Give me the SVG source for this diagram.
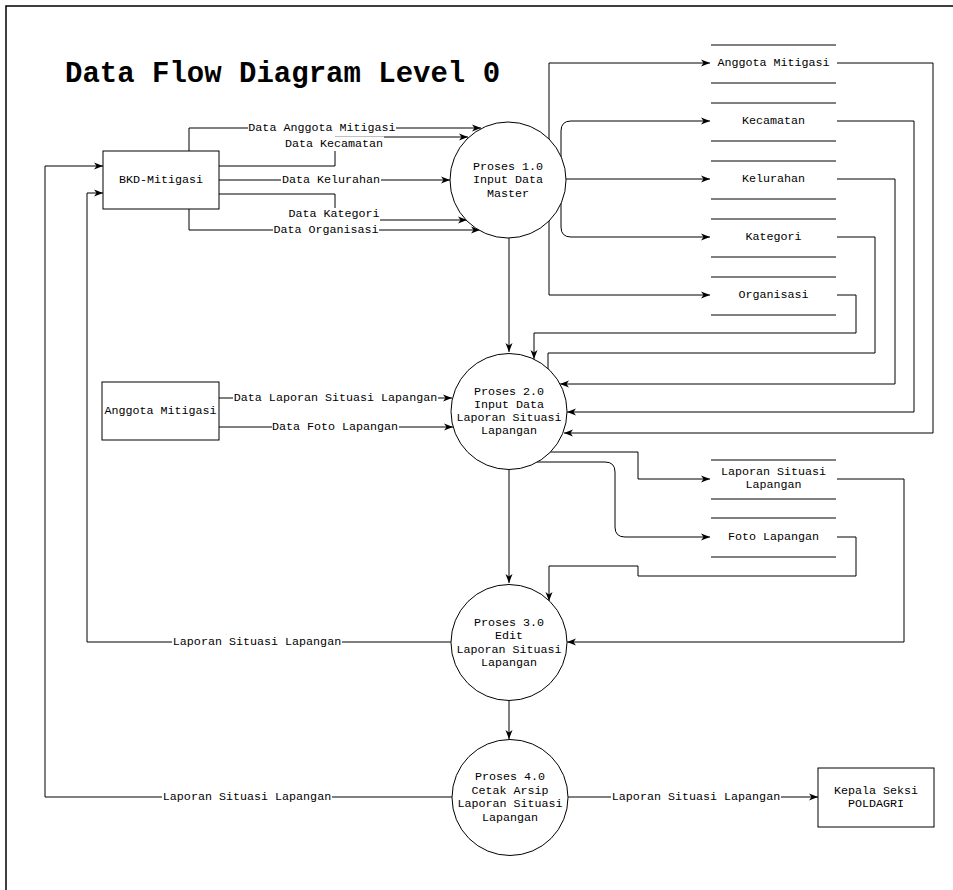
<svg xmlns="http://www.w3.org/2000/svg" width="953" height="890" viewBox="0 0 953 890">
<style>
.t{font-family:"Liberation Mono","Courier New",monospace;font-size:11.7px;fill:#000;text-anchor:middle;dominant-baseline:central}
.title{font-family:"Liberation Mono","Courier New",monospace;font-size:29px;font-weight:bold;fill:#000}
.c{fill:none;stroke:#000;stroke-width:1}
.ca{fill:none;stroke:#000;stroke-width:1;marker-end:url(#arr)}
.n{fill:#fff;stroke:#000;stroke-width:1}
.s{stroke:#000;stroke-width:1}
.bg{fill:#fff}
</style>
<defs>
<marker id="arr" markerUnits="userSpaceOnUse" markerWidth="9" markerHeight="9" viewBox="0 0 9 9" refX="9" refY="4.5" orient="auto">
<path d="M0,1 L9,4.5 L0,8 L2.5,4.5 z" fill="#000"/>
</marker>
</defs>
<rect x="0" y="0" width="953" height="890" fill="#fff"/>
<path d="M6,890 V6 H953" fill="none" stroke="#000" stroke-width="1.5"/>
<text class="title" x="65" y="82">Data Flow Diagram Level 0</text>

<g id="connectors">
<path class="ca" d="M189,151 V128 H481"/>
<path class="ca" d="M219,166 H335 V137 H468"/>
<path class="ca" d="M219,180 H450"/>
<path class="ca" d="M219,194 H335 V220 H467"/>
<path class="ca" d="M189,209 V230 H480"/>
<path class="ca" d="M549,180 V63 H710"/>
<path class="ca" d="M561,180 V131 Q561,121 571,121 H710"/>
<path class="ca" d="M566,179 H710"/>
<path class="ca" d="M561,180 V227 Q561,237 571,237 H710"/>
<path class="ca" d="M549,180 V295 H710"/>
<path class="ca" d="M509,238 V352"/>
<path class="ca" d="M837,295 H856 V333 H534 V359"/>
<path class="c" d="M837,237 H875 V353 H548 V370"/>
<path class="ca" d="M837,179 H895 V384 H560"/>
<path class="ca" d="M837,121 H914 V412 H567"/>
<path class="ca" d="M837,63 H933 V433 H564"/>
<path class="ca" d="M219,398 H452"/>
<path class="ca" d="M219,427 H453"/>
<path class="ca" d="M550,452 H638 V479 H710"/>
<path class="ca" d="M537,462 H605 Q615,462 615,472 V527 Q615,537 625,537 H710"/>
<path class="ca" d="M509,470 V583"/>
<path class="ca" d="M837,537 H856 V576 H638 V566 H549 V601"/>
<path class="ca" d="M837,479 H904 V642 H567"/>
<path class="ca" d="M451,642 H87 V193 H103"/>
<path class="ca" d="M509,701 V739"/>
<path class="ca" d="M452,797 H45 V166 H103"/>
<path class="ca" d="M567,797 H818"/>

<rect class="bg" x="248" y="121" width="148" height="14"/>
<text class="t" x="322" y="128">Data Anggota Mitigasi</text>
<rect class="bg" x="285" y="136.5" width="99" height="14.5"/>
<text class="t" x="334" y="144">Data Kecamatan</text>
<rect class="bg" x="281" y="173" width="100" height="14"/>
<text class="t" x="331" y="180">Data Kelurahan</text>
<rect class="bg" x="288" y="208" width="92" height="13"/>
<text class="t" x="334" y="214">Data Kategori</text>
<rect class="bg" x="273" y="223" width="106" height="14"/>
<text class="t" x="326" y="230">Data Organisasi</text>
<rect class="bg" x="233" y="391" width="205" height="14"/>
<text class="t" x="335.5" y="398">Data Laporan Situasi Lapangan</text>
<rect class="bg" x="272" y="420" width="127" height="14"/>
<text class="t" x="335" y="427">Data Foto Lapangan</text>
<rect class="bg" x="172" y="635" width="170" height="14"/>
<text class="t" x="257" y="642">Laporan Situasi Lapangan</text>
<rect class="bg" x="162" y="790" width="170" height="14"/>
<text class="t" x="247" y="797">Laporan Situasi Lapangan</text>
<rect class="bg" x="611" y="790" width="170" height="14"/>
<text class="t" x="696" y="797">Laporan Situasi Lapangan</text>
</g>

<g id="bkd">
<rect class="n" x="103" y="151" width="116" height="58"/>
<text class="t" x="161" y="180">BKD-Mitigasi</text>
</g>
<g id="anggota">
<rect class="n" x="102" y="382" width="117" height="58"/>
<text class="t" x="160.5" y="411">Anggota Mitigasi</text>
</g>
<g id="kepala">
<rect class="n" x="818" y="768" width="116" height="59"/>
<text class="t" x="876" y="791">Kepala Seksi</text>
<text class="t" x="876" y="804">POLDAGRI</text>
</g>

<g id="p1">
<circle class="n" cx="508" cy="180" r="58"/>
<text class="t" x="508" y="166.5">Proses 1.0</text>
<text class="t" x="508" y="180">Input Data</text>
<text class="t" x="508" y="193.5">Master</text>
</g>
<g id="p2">
<circle class="n" cx="509" cy="411.5" r="58"/>
<text class="t" x="509" y="392">Proses 2.0</text>
<text class="t" x="509" y="405">Input Data</text>
<text class="t" x="509" y="418">Laporan Situasi</text>
<text class="t" x="509" y="431">Lapangan</text>
</g>
<g id="p3">
<circle class="n" cx="509" cy="642.5" r="58"/>
<text class="t" x="509" y="622.5">Proses 3.0</text>
<text class="t" x="509" y="636">Edit</text>
<text class="t" x="509" y="649.5">Laporan Situasi</text>
<text class="t" x="509" y="663">Lapangan</text>
</g>
<g id="p4">
<circle class="n" cx="510" cy="797.5" r="58"/>
<text class="t" x="510" y="777">Proses 4.0</text>
<text class="t" x="510" y="790.5">Cetak Arsip</text>
<text class="t" x="510" y="804">Laporan Situasi</text>
<text class="t" x="510" y="817.5">Lapangan</text>
</g>

<g id="ds_anggota">
<line class="s" x1="711" y1="45" x2="836" y2="45"/>
<line class="s" x1="711" y1="83" x2="836" y2="83"/>
<text class="t" x="773.5" y="63">Anggota Mitigasi</text>
</g>
<g id="ds_kecamatan">
<line class="s" x1="711" y1="103" x2="836" y2="103"/>
<line class="s" x1="711" y1="141" x2="836" y2="141"/>
<text class="t" x="773.5" y="121">Kecamatan</text>
</g>
<g id="ds_kelurahan">
<line class="s" x1="711" y1="161" x2="836" y2="161"/>
<line class="s" x1="711" y1="199" x2="836" y2="199"/>
<text class="t" x="773.5" y="179">Kelurahan</text>
</g>
<g id="ds_kategori">
<line class="s" x1="711" y1="219" x2="836" y2="219"/>
<line class="s" x1="711" y1="257" x2="836" y2="257"/>
<text class="t" x="773.5" y="237">Kategori</text>
</g>
<g id="ds_organisasi">
<line class="s" x1="711" y1="277" x2="836" y2="277"/>
<line class="s" x1="711" y1="315" x2="836" y2="315"/>
<text class="t" x="773.5" y="295">Organisasi</text>
</g>
<g id="ds_laporan">
<line class="s" x1="711" y1="460" x2="836" y2="460"/>
<line class="s" x1="711" y1="499" x2="836" y2="499"/>
<text class="t" x="773.5" y="472">Laporan Situasi</text>
<text class="t" x="773.5" y="485">Lapangan</text>
</g>
<g id="ds_foto">
<line class="s" x1="711" y1="518" x2="836" y2="518"/>
<line class="s" x1="711" y1="557" x2="836" y2="557"/>
<text class="t" x="773.5" y="537">Foto Lapangan</text>
</g>
</svg>
